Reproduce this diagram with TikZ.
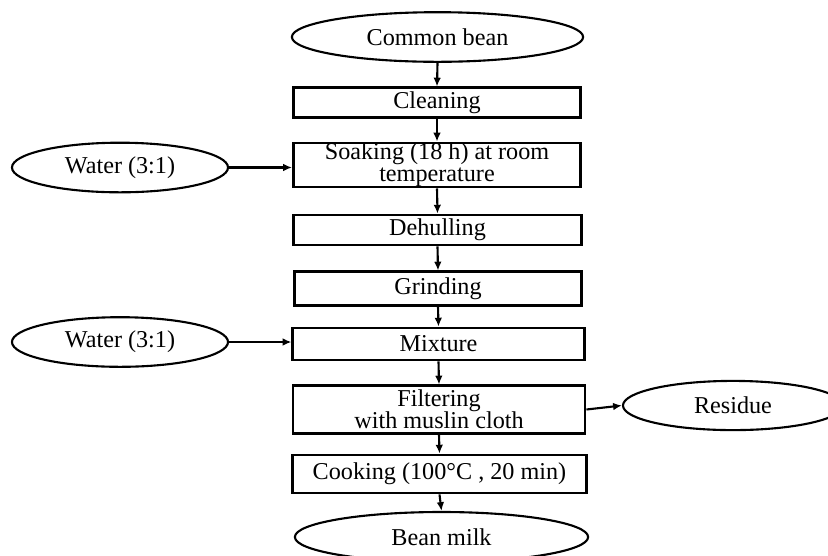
\documentclass[tikz,border=0pt]{standalone}
\usepackage{fontspec}
\setmainfont{Liberation Serif}
\usetikzlibrary{arrows.meta,shapes.geometric}

\begin{document}
\begin{tikzpicture}[x=0.025cm, y=0.025cm]
\tikzstyle{every node}+=[inner sep=0pt, align=center, font=\fontsize{17.2}{15.8}\selectfont]
\tikzstyle{stepbox}=[draw=black, line width=2pt, rectangle, minimum width=7.18cm]
\tikzstyle{oval}=[draw=black, line width=1.5pt, ellipse, minimum width=5.4cm, minimum height=1.24cm]
\tikzstyle{flow}=[black, line width=1.5pt, -{Latex[length=2.2mm,width=1.9mm]}]
\clip (0,0) rectangle (828,-555);
% main line
\node [oval, minimum width=7.28cm] (bean) at (437.5,-37) {Common bean};
\node [stepbox, minimum height=0.73cm] (clean) at (437,-102.5) {Cleaning};
\node [stepbox, minimum height=1.1cm] (soak) at (437,-165) {Soaking (18 h) at room\\temperature};
\node [stepbox, minimum height=0.75cm] (dehull) at (437.5,-230) {Dehulling};
\node [stepbox, minimum height=0.83cm] (grind) at (438,-288.5) {Grinding};
\node [stepbox, minimum height=0.8cm, minimum width=7.28cm] (mix) at (438.5,-344) {Mixture};
\node [stepbox, minimum height=1.18cm, minimum width=7.3cm] (filter) at (439,-409.5) {Filtering\\with muslin cloth};
\node [stepbox, minimum height=0.95cm, minimum width=7.33cm] (cook) at (439.5,-474) {Cooking (100°C , 20 min)};
\node [oval, minimum width=7.33cm, minimum height=1.25cm] (milk) at (441.5,-537) {Bean milk};
% side inputs and outputs
\node [oval] (water1) at (120,-167.5) {Water (3:1)};
\node [oval] (water2) at (120,-342) {Water (3:1)};
\node [oval, minimum width=5.5cm, minimum height=1.23cm] (residue) at (733,-405.5) {Residue};
\draw [flow] (bean.south) -- (clean.north);
\draw [flow] (clean.south) -- (soak.north);
\draw [flow] (soak.south) -- (dehull.north);
\draw [flow] (dehull.south) -- (grind.north);
\draw [flow] (grind.south) -- (mix.north);
\draw [flow] (mix.south) -- (filter.north);
\draw [flow] (filter.south) -- (cook.north);
\draw [flow] (cook.south) -- (milk.north);
\draw [flow] (water1.east) -- (water1.east -| soak.west);
\draw [flow] (water2.east) -- (water2.east -| mix.west);
\draw [flow] (filter.east) -- (residue.west);
\end{tikzpicture}
\end{document}
